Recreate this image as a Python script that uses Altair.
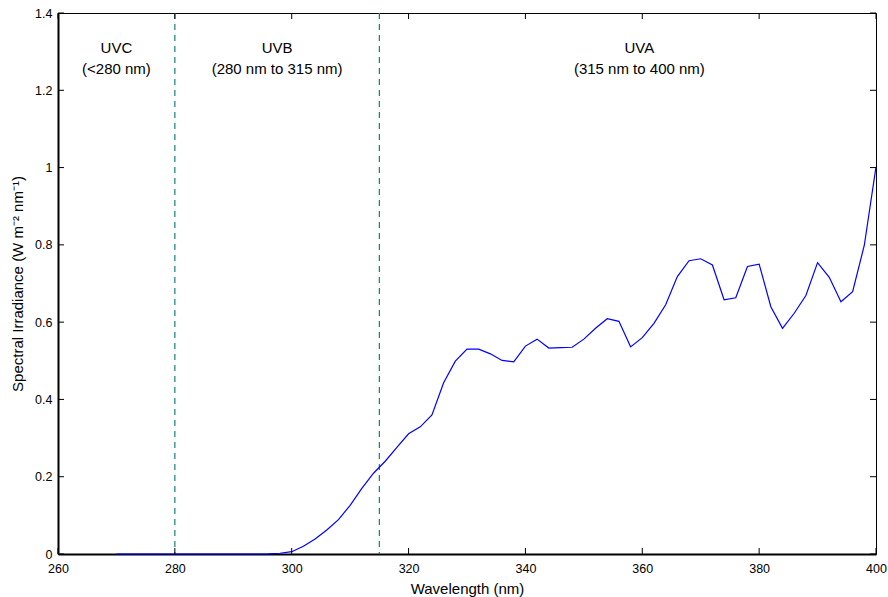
import altair as alt
import pandas as pd

# Spectral data (wavelength nm, irradiance W m^-2 nm^-1)
wavelength = [270, 272, 274, 276, 278, 280, 282, 284, 286, 288, 290, 292, 294,
              296, 298, 300, 302, 304, 306, 308, 310, 312, 314, 316, 318, 320,
              322, 324, 326, 328, 330, 332, 334, 336, 338, 340, 342, 344, 346,
              348, 350, 352, 354, 356, 358, 360, 362, 364, 366, 368, 370, 372,
              374, 376, 378, 380, 382, 384, 386, 388, 390, 392, 394, 396, 398, 400]
irradiance = [0, 0, 0, 0, 0, 0, 0, 0, 0, 0, 0, 0, 0,
              0.0005, 0.002, 0.006, 0.020, 0.039, 0.062, 0.089, 0.126, 0.170, 0.209,
              0.240, 0.276, 0.311, 0.329, 0.360, 0.443, 0.499, 0.530, 0.530, 0.518,
              0.501, 0.497, 0.538, 0.556, 0.533, 0.534, 0.535, 0.556, 0.584, 0.609,
              0.602, 0.536, 0.560, 0.597, 0.645, 0.718, 0.759, 0.764, 0.748, 0.658,
              0.663, 0.744, 0.750, 0.640, 0.584, 0.623, 0.669, 0.754, 0.716, 0.653,
              0.679, 0.799, 1.002]

band_edges = [280, 315]
band_x = [270, 297.5, 359.5]
band_names = ["UVC", "UVB", "UVA"]
band_ranges = ["(<280 nm)", "(280 nm to 315 nm)", "(315 nm to 400 nm)"]

x_ticks = [260, 280, 300, 320, 340, 360, 380, 400]
y_ticks = [0, 0.2, 0.4, 0.6, 0.8, 1.0, 1.2, 1.4]

W, H = 818, 541
FONT = "Liberation Sans"
TEAL = "#13807f"

df = pd.DataFrame({"wl": wavelength, "irr": irradiance})
edges = pd.DataFrame({"x": band_edges})
labels = pd.DataFrame({"x": band_x, "name": band_names, "rng": band_ranges})
xt = pd.DataFrame({"t": x_ticks})
yt = pd.DataFrame({"t": y_ticks})

xscale = alt.Scale(domain=[260, 400], nice=False, zero=False)
yscale = alt.Scale(domain=[0, 1.4], nice=False)

xaxis = alt.Axis(values=x_ticks, tickSize=0, labelPadding=8, grid=False,
                 labelFlush=False, labelOverlap=False,
                 domainWidth=2, domainColor="black", labelFontSize=12.5,
                 labelColor="black", title="Wavelength (nm)", titleFontSize=15,
                 titleFontWeight="normal", titlePadding=7, titleColor="black")
yaxis = alt.Axis(values=y_ticks, tickSize=0, labelPadding=6, grid=False,
                 labelFlush=False, labelOverlap=False,
                 format="~g", domainWidth=2, domainColor="black",
                 labelFontSize=12.5, labelColor="black",
                 title="Spectral Irradiance (W m\u207b\u00b2 nm\u207b\u00b9)",
                 titleFontSize=15, titleFontWeight="normal", titlePadding=9,
                 titleColor="black")

line = alt.Chart(df).mark_line(color="#0000ff", strokeWidth=1.2).encode(
    x=alt.X("wl:Q", scale=xscale, axis=xaxis),
    y=alt.Y("irr:Q", scale=yscale, axis=yaxis),
)

vlines = alt.Chart(edges).mark_rule(color=TEAL, strokeWidth=1.2,
                                    strokeDash=[6, 5]).encode(
    x=alt.X("x:Q", scale=xscale),
    y=alt.value(0), y2=alt.value(H),
)

txt1 = alt.Chart(labels).mark_text(font=FONT, fontSize=15, color="black").encode(
    x=alt.X("x:Q", scale=xscale), y=alt.value(35), text="name:N")
txt2 = alt.Chart(labels).mark_text(font=FONT, fontSize=15, color="black").encode(
    x=alt.X("x:Q", scale=xscale), y=alt.value(56), text="rng:N")

tick_style = dict(color="black", strokeWidth=1)
xt_bottom = alt.Chart(xt).mark_rule(**tick_style).encode(
    x=alt.X("t:Q", scale=xscale), y=alt.value(H - 6), y2=alt.value(H))
xt_top = alt.Chart(xt).mark_rule(**tick_style).encode(
    x=alt.X("t:Q", scale=xscale), y=alt.value(0), y2=alt.value(6))
yt_left = alt.Chart(yt).mark_rule(**tick_style).encode(
    y=alt.Y("t:Q", scale=yscale), x=alt.value(0), x2=alt.value(6))
yt_right = alt.Chart(yt).mark_rule(**tick_style).encode(
    y=alt.Y("t:Q", scale=yscale), x=alt.value(W - 6), x2=alt.value(W))

chart = alt.layer(vlines, line, txt1, txt2, xt_bottom, xt_top, yt_left, yt_right).properties(
    width=W, height=H,
    autosize=alt.AutoSizeParams(type="none"),
    padding={"left": 58, "top": 13, "right": 12, "bottom": 43},
    background="white",
).configure_view(stroke="black", strokeWidth=1).configure_axis(
    labelFont=FONT, titleFont=FONT
)

chart.save("out.html", embed_options={"renderer": "svg", "actions": False})
